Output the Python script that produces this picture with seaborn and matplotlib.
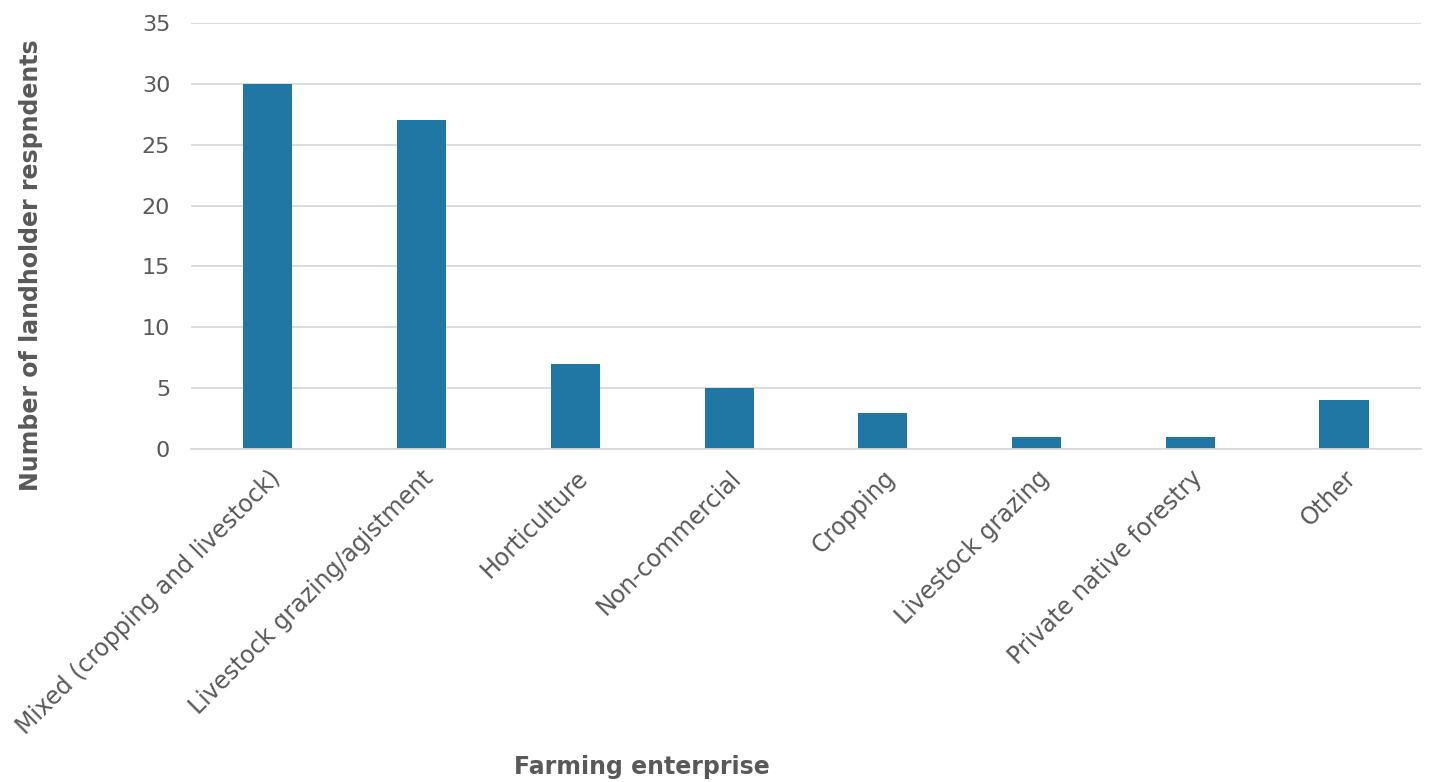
import matplotlib
matplotlib.use("Agg")
import matplotlib.pyplot as plt
import seaborn as sns
import pandas as pd

categories = [
    "Mixed (cropping and livestock)",
    "Livestock grazing/agistment",
    "Horticulture",
    "Non-commercial",
    "Cropping",
    "Livestock grazing",
    "Private native forestry",
    "Other",
]
counts = [30, 27, 7, 5, 3, 1, 1, 4]
y_ticks = [0, 5, 10, 15, 20, 25, 30, 35]

sns.set_theme(style="white")
plt.rcParams["font.family"] = ["DejaVu Sans"]

text_grey = "#595959"
bar_blue = "#2077a3"

df = pd.DataFrame({"enterprise": categories, "count": counts})

fig = plt.figure(figsize=(14.33, 7.82), dpi=100)
ax = fig.add_axes([0.1333, 0.4258, 0.8583, 0.5448])

sns.barplot(data=df, x="enterprise", y="count", color=bar_blue,
            saturation=1, width=0.32, linewidth=0, ax=ax)

ax.set_ylim(0, 35)
ax.set_xlim(-0.5, len(categories) - 0.5)
ax.set_yticks(y_ticks)
ax.set_yticklabels([str(t) for t in y_ticks], fontsize=16, color=text_grey)
ax.yaxis.grid(True, color="#d9d9d9", linewidth=1.3)
ax.set_axisbelow(True)
for s in ["top", "right", "left"]:
    ax.spines[s].set_visible(False)
ax.spines["bottom"].set_color("#d9d9d9")
ax.spines["bottom"].set_linewidth(1.3)
ax.tick_params(axis="y", length=0, pad=15)
ax.tick_params(axis="x", length=0, pad=12)

ax.set_xticks(range(len(categories)))
ax.set_xticklabels(categories, rotation=45, ha="right", rotation_mode="anchor",
                   fontsize=17, color=text_grey)

ax.set_xlabel("Farming enterprise", fontsize=17, fontweight="bold", color=text_grey)
ax.set_ylabel("Number of landholder respndents", fontsize=17, fontweight="bold",
              color=text_grey)
ax.xaxis.set_label_coords(0.3667, -0.718)
ax.yaxis.set_label_coords(-0.120, 0.432)

fig.savefig("out.png", dpi=100)
